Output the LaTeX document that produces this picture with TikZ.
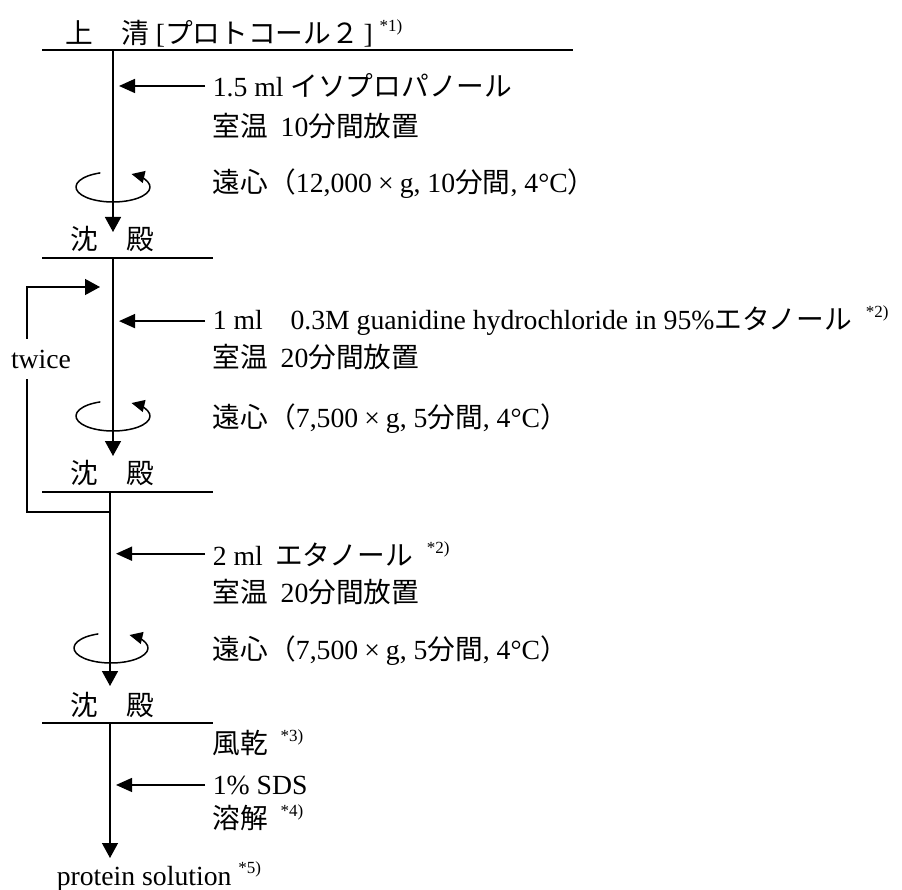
\documentclass[tikz,border=0pt]{standalone}
\usepackage{fontspec}
\setmainfont{Liberation Serif}
\newfontfamily\jpfont{Noto Sans CJK JP}
\newcommand{\jp}[1]{{\jpfont #1}}
\newcommand{\fnmark}[1]{\raisebox{12pt}{\fontsize{17}{17}\selectfont *#1)}}
\usetikzlibrary{arrows.meta}

\begin{document}
\begin{tikzpicture}[x=1pt, y=-1pt, line width=1.6pt,
    txt/.style={anchor=base west, inner sep=0pt, font=\fontsize{27.7}{32}\selectfont},
    flow/.style={-{Triangle[length=15pt,width=16pt]}},
    add/.style={-{Triangle[length=16pt,width=14pt]}, shorten <=7pt, shorten >=6pt},
    spin/.style={line width=1.5pt, -{Triangle[length=13pt,width=12pt]}}]
    \useasboundingbox (0,0) rectangle (902,890);
    % bars
    \coordinate (bar1w) at (42,50);   \coordinate (bar1e) at (573,50);
    \coordinate (bar2w) at (42,258);  \coordinate (bar2e) at (213,258);
    \coordinate (bar3w) at (42,492);  \coordinate (bar3e) at (213,492);
    \coordinate (bar4w) at (42,723);  \coordinate (bar4e) at (213,723);
    \draw (bar1w) -- (bar1e);
    \draw (bar2w) -- (bar2e);
    \draw [line width=1.3pt] (bar3w) -- (bar3e);
    \draw [line width=1.3pt] (bar4w) -- (bar4e);
    % main line
    \coordinate (s1) at (113,50);  \coordinate (e1) at (113,232);
    \coordinate (s2) at (113,258); \coordinate (e2) at (113,456);
    \coordinate (s3) at (110,492); \coordinate (e3) at (110,686);
    \coordinate (s4) at (110,723); \coordinate (e4) at (110,858);
    \draw [flow] (s1) -- (e1);
    \draw [flow] (s2) -- (e2);
    \draw [flow] (s3) -- (e3);
    \draw [flow, line width=1.3pt] (s4) -- (e4);
    % texts
    \node [txt] (sup) at (65,44) {\jp{上　清} [\jp{プロトコール２}\,]\ \fnmark{1}};
    \node [txt] (ipa) at (212,97) {1.5 ml \jp{イソプロパノール}};
    \node [txt] (rt1) at (212,137) {\jp{室温}\hspace{0.45em}10\jp{分間放置}};
    \node [txt] (cf1) at (212,193) {\jp{遠心（}12,000\makebox[1em]{×}g, 10\jp{分間}, 4°C\jp{）}};
    \node [txt] (ppt1) at (70,250) {\jp{沈　殿}};
    \node [txt] (gua) at (212,330) {1 ml\hspace{1em}0.3M guanidine hydrochloride in 95\%\jp{エタノール}\hspace{0.5em}\fnmark{2}};
    \node [txt] (rt2) at (212,368) {\jp{室温}\hspace{0.45em}20\jp{分間放置}};
    \node [txt] (cf2) at (212,427) {\jp{遠心（}7,500\makebox[1em]{×}g, 5\jp{分間}, 4°C\jp{）}};
    \node [txt] (ppt2) at (70,483) {\jp{沈　殿}};
    \node [txt] (eth) at (212,565) {2 ml\hspace{0.45em}\jp{エタノール}\hspace{0.5em}\fnmark{2}};
    \node [txt] (rt3) at (212,602) {\jp{室温}\hspace{0.45em}20\jp{分間放置}};
    \node [txt] (cf3) at (212,659) {\jp{遠心（}7,500\makebox[1em]{×}g, 5\jp{分間}, 4°C\jp{）}};
    \node [txt] (ppt3) at (70,715) {\jp{沈　殿}};
    \node [txt] (dry) at (212,753) {\jp{風乾}\hspace{0.45em}\fnmark{3}};
    \node [txt] (sds) at (212,794) {1\% SDS};
    \node [txt] (dis) at (212,828) {\jp{溶解}\hspace{0.45em}\fnmark{4}};
    \node [txt] (prot) at (56,885) {protein solution \fnmark{5}};
    \node [font=\fontsize{27.7}{32}\selectfont, inner xsep=0pt, inner ysep=10pt] (twice) at (41,359) {twice};
    % additions
    \draw [add] (ipa.west) -- (ipa.west -| s1);
    \draw [add] (gua.west) -- (gua.west -| s2);
    \draw [add] (eth.west) -- (eth.west -| s3);
    \draw [add, line width=1.3pt] (sds.west) -- (sds.west -| s4);
    % repeat loop
    \coordinate (jn) at (110,512); \coordinate (lp) at (27,512);
    \coordinate (lq) at (27,287);  \coordinate (lt) at (100,287);
    \draw [line width=1.3pt] (jn) -- (lp) -- (twice.south -| lp);
    \draw [flow, line width=1.3pt] (twice.north -| lp) -- (lq) -- (lt);
    % centrifuge
    \coordinate (r1) at (113,187);
    \coordinate (r2) at (113,416);
    \coordinate (r3) at (111,648);
    \foreach \r in {r1,r2,r3}
        \draw [spin] (\r) ++(-110:37 and 15) arc [start angle=-110, end angle=-420, x radius=37, y radius=15];
\end{tikzpicture}
\end{document}
